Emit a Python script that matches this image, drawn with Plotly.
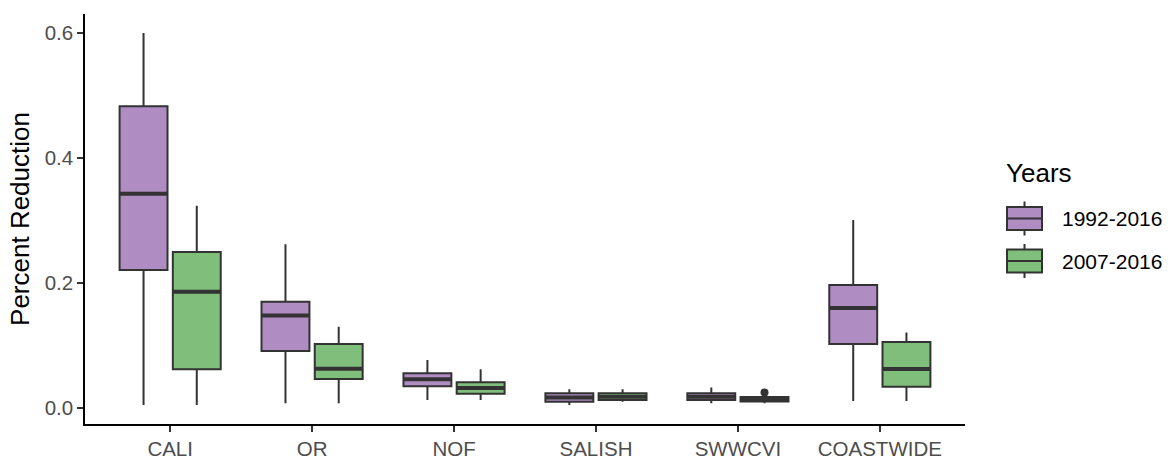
import plotly.graph_objects as go

# Regions along the x axis
categories = ["CALI", "OR", "NOF", "SALISH", "SWWCVI", "COASTWIDE"]
y_ticks = [0.0, 0.2, 0.4, 0.6]
y_tick_labels = ["0.0", "0.2", "0.4", "0.6"]

# Box statistics for the 1992-2016 period
early_label = "1992-2016"
early_lower = [0.005, 0.0075, 0.0128, 0.0048, 0.0075, 0.0112]
early_q1 = [0.221, 0.0912, 0.0347, 0.0100, 0.0128, 0.1024]
early_median = [0.343, 0.148, 0.0459, 0.0170, 0.0180, 0.160]
early_q3 = [0.483, 0.170, 0.0555, 0.0235, 0.0235, 0.1968]
early_upper = [0.600, 0.262, 0.0768, 0.0300, 0.0330, 0.3008]

# Box statistics for the 2007-2016 period
late_label = "2007-2016"
late_lower = [0.005, 0.0075, 0.0128, 0.0100, 0.0075, 0.0112]
late_q1 = [0.0619, 0.0464, 0.0229, 0.0128, 0.0105, 0.034]
late_median = [0.186, 0.0629, 0.032, 0.0180, 0.0140, 0.0624]
late_q3 = [0.2496, 0.1024, 0.0411, 0.0235, 0.0175, 0.1056]
late_upper = [0.3237, 0.130, 0.062, 0.0300, 0.0200, 0.121]

# Outlying points (category, value) for the 2007-2016 period
late_outlier_cat = ["SWWCVI"]
late_outlier_val = [0.025]

purple = "#af8dc3"
green = "#7fbf7b"
outline = "#333333"

dodge = 0.75          # total width taken by the pair of boxes
box_w = dodge / 2 * 0.9

pos = {c: i + 1 for i, c in enumerate(categories)}

fig = go.Figure()

series = [
    (early_label, purple, -dodge / 4, early_lower, early_q1, early_median, early_q3, early_upper),
    (late_label, green, dodge / 4, late_lower, late_q1, late_median, late_q3, late_upper),
]

for name, color, off, lo, q1, med, q3, hi in series:
    xs = [pos[c] + off for c in categories]
    fig.add_trace(go.Box(
        name=name, x=xs, q1=q1, median=med, q3=q3,
        lowerfence=lo, upperfence=hi,
        width=box_w, fillcolor=color,
        line=dict(color=outline, width=2),
        whiskerwidth=0, boxpoints=False,
        showlegend=False, hoverinfo="skip",
    ))
    # heavier median bar across each box
    mx, my = [], []
    for x, m in zip(xs, med):
        mx += [x - box_w / 2, x + box_w / 2, None]
        my += [m, m, None]
    fig.add_trace(go.Scatter(
        x=mx, y=my, mode="lines",
        line=dict(color=outline, width=4),
        showlegend=False, hoverinfo="skip",
    ))

fig.add_trace(go.Scatter(
    x=[pos[c] + dodge / 4 for c in late_outlier_cat], y=late_outlier_val,
    mode="markers", marker=dict(color=outline, size=8),
    showlegend=False, hoverinfo="skip",
))

# Hand-built legend in the right margin
L, R, T, B = 85, 965, 14, 424
def px(x):
    return (x - L) / (R - L)
def py(y):
    return (B - y) / (B - T)

shapes = []
annotations = [dict(
    text="Years", xref="paper", yref="paper", x=px(1004), y=py(173),
    xanchor="left", yanchor="middle", showarrow=False,
    font=dict(size=26, color="#000000", family="Liberation Sans, Arial, sans-serif"),
)]
for (name, color), cy in zip([(early_label, purple), (late_label, green)], [218.5, 261]):
    shapes.append(dict(type="line", xref="paper", yref="paper",
                       x0=px(1024.5), x1=px(1024.5), y0=py(cy - 17), y1=py(cy + 17),
                       line=dict(color=outline, width=2)))
    shapes.append(dict(type="rect", xref="paper", yref="paper",
                       x0=px(1007), x1=px(1042), y0=py(cy - 11.5), y1=py(cy + 11.5),
                       fillcolor=color, line=dict(color=outline, width=2)))
    shapes.append(dict(type="line", xref="paper", yref="paper",
                       x0=px(1007), x1=px(1042), y0=py(cy), y1=py(cy),
                       line=dict(color=outline, width=2)))
    annotations.append(dict(
        text=name, xref="paper", yref="paper", x=px(1060), y=py(cy),
        xanchor="left", yanchor="middle", showarrow=False,
        font=dict(size=21, color="#000000", family="Liberation Sans, Arial, sans-serif"),
    ))

fig.update_layout(
    width=1172, height=460,
    margin=dict(l=L, r=1172 - R, t=T, b=460 - B),
    paper_bgcolor="white", plot_bgcolor="white",
    font=dict(family="Liberation Sans, Arial, sans-serif", color="#000000"),
    shapes=shapes, annotations=annotations,
    xaxis=dict(
        range=[0.4, 6.6], tickmode="array",
        tickvals=[pos[c] for c in categories], ticktext=categories,
        showgrid=False, zeroline=False, automargin=False,
        showline=True, linecolor="#000000", linewidth=1.5,
        ticks="outside", ticklen=6, tickwidth=1.5, tickcolor=outline,
        tickfont=dict(size=20.5, color="#4d4d4d"),
    ),
    yaxis=dict(
        range=[-0.0256, 0.6304], tickmode="array",
        tickvals=y_ticks, ticktext=y_tick_labels,
        showgrid=False, zeroline=False, automargin=False,
        showline=True, linecolor="#000000", linewidth=1.5,
        ticks="outside", ticklen=6, tickwidth=1.5, tickcolor=outline,
        tickfont=dict(size=20.5, color="#4d4d4d"),
        title=dict(text="Percent Reduction", font=dict(size=26, color="#000000"), standoff=8),
    ),
)

fig.write_html("out.html")
